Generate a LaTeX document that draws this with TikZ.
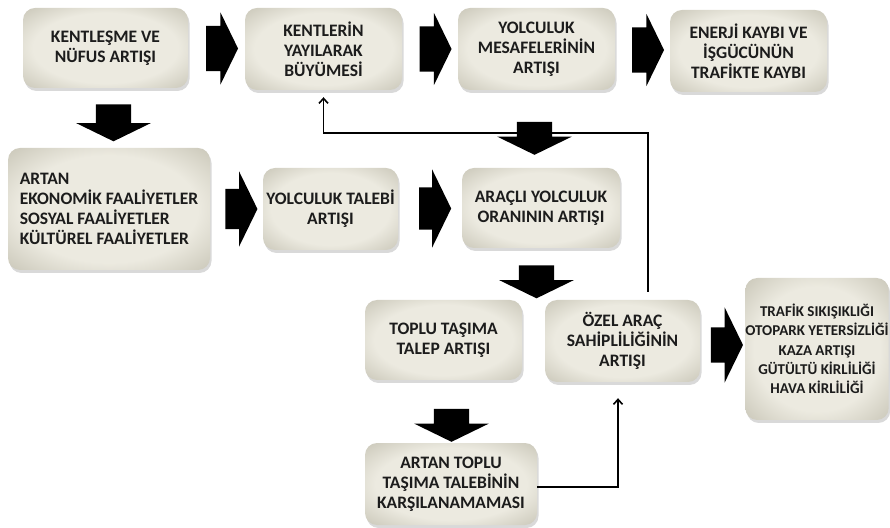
\documentclass[tikz,border=0pt]{standalone}
\usepackage{fontspec}
\setmainfont{Carlito}
\usepackage{tikz}
\usetikzlibrary{shapes.arrows, arrows.meta, shadows, calc}
\usepackage{xcolor}
\definecolor{boxlight}{RGB}{236,234,224}
\definecolor{boxmid}{RGB}{196,193,178}
\definecolor{boxdark}{RGB}{120,116,98}
\definecolor{textdark}{RGB}{28,28,28}
\pgfdeclareradialshading{boxglow}{\pgfpoint{0bp}{0bp}}{color(0bp)=(boxlight); color(22bp)=(boxlight); color(38bp)=(boxmid); color(50bp)=(boxdark)}

\begin{document}
\begin{tikzpicture}[x=1pt, y=1pt,
    flowbox/.style={shade, shading=boxglow, rounded corners=12pt, drop shadow={shadow xshift=1.5pt, shadow yshift=-3pt, opacity=0.3}, font=\bfseries\fontsize{17.5}{20}\selectfont, text=textdark, align=center, inner sep=3pt},
    rarrow/.style={single arrow, fill=black, inner xsep=0pt, inner ysep=22.5pt, minimum height=32pt, minimum width=72pt, single arrow head extend=13.5pt, single arrow tip angle=128},
    darrow/.style={rarrow, rotate=-90, inner ysep=17.5pt, minimum height=33pt, minimum width=74pt, single arrow head extend=19.5pt},
    fbline/.style={line width=1.6pt, -{Straight Barb[length=5pt,width=9pt]}}]
                \useasboundingbox (0,0) rectangle (890,527);

                % Top row
                \node[flowbox, minimum width=165pt, minimum height=80pt] (kentlesme) at (105.5,479) {KENTLEŞME VE\\NÜFUS ARTIŞI};
                \node[flowbox, minimum width=157pt, minimum height=82pt] (yayilma) at (323.5,478) {KENTLERİN\\YAYILARAK\\BÜYÜMESİ};
                \node[flowbox, minimum width=157pt, minimum height=82pt] (mesafe) at (536.5,478) {YOLCULUK\\MESAFELERİNİN\\ARTIŞI};
                \node[flowbox, minimum width=157pt, minimum height=82pt] (enerji) at (748.5,476) {ENERJİ KAYBI VE\\İŞGÜCÜNÜN\\TRAFİKTE KAYBI};

                % Middle row
                \node[flowbox, minimum width=202pt, minimum height=122pt, align=left] (faaliyet) at (109,318) {ARTAN\\EKONOMİK FAALİYETLER\\SOSYAL FAALİYETLER\\KÜLTÜREL FAALİYETLER};
                \node[flowbox, minimum width=135pt, minimum height=82pt] (talep) at (330.5,318) {YOLCULUK TALEBİ\\ARTIŞI};
                \node[flowbox, minimum width=158pt, minimum height=80pt] (aracli) at (541,319) {ARAÇLI YOLCULUK\\ORANININ ARTIŞI};

                % Lower rows
                \node[flowbox, minimum width=157pt, minimum height=80pt] (toplu) at (443.5,187) {TOPLU TAŞIMA\\TALEP ARTIŞI};
                \node[flowbox, minimum width=155pt, minimum height=82pt] (ozel) at (622.5,186) {ÖZEL ARAÇ\\SAHİPLİLİĞİNİN\\ARTIŞI};
                \node[flowbox, minimum width=140pt, minimum height=142pt, inner xsep=0pt, font=\bfseries\fontsize{15}{19.3}\selectfont] (trafik) at (817,178) {TRAFİK SIKIŞIKLIĞI\\OTOPARK YETERSİZLİĞİ\\KAZA ARTIŞI\\GÜTÜLTÜ KİRLİLİĞİ\\HAVA KİRLİLİĞİ};
                \node[flowbox, minimum width=172pt, minimum height=82pt] (karsilanma) at (451,43) {ARTAN TOPLU\\TAŞIMA TALEBİNİN\\KARŞILANAMAMASI};

                % Feedback lines
                \draw[fbline, shorten <=8pt, shorten >=7pt] ([xshift=25.5pt]ozel.north) -- ++(0,167) -| (yayilma.south);
                \draw[fbline, shorten >=16pt] ([yshift=-3pt]karsilanma.east) -| ([xshift=-4.5pt]ozel.south);

                % Block arrows
                \node[rarrow] (a1) at ($(kentlesme.east)!0.5!(yayilma.west)$) {};
                \node[rarrow] (a2) at ($(yayilma.east)!0.5!(mesafe.west)$) {};
                \node[rarrow] (a3) at ($(mesafe.east)!0.5!(enerji.west)$) {};
                \node[rarrow, inner ysep=20pt, minimum width=75pt, single arrow head extend=17.5pt] (a4) at ($(faaliyet.east)!0.5!(talep.west)$) {};
                \node[rarrow, inner ysep=21pt, minimum width=78pt, single arrow head extend=18pt] (a5) at ($(talep.east)!0.5!(aracli.west)$) {};
                \node[rarrow, inner ysep=17.5pt, minimum width=75pt, single arrow head extend=20pt] (a6) at ($(ozel.east)!0.5!(trafik.west)$) {};
                \node[darrow, minimum height=37pt] (d1) at (113.5,408.5) {};
                \node[darrow] (d2) at (534.5,393) {};
                \node[darrow] (d3) at (536.5,249.5) {};
                \node[darrow] (d4) at (451.5,106) {};
            \end{tikzpicture}
\end{document}
